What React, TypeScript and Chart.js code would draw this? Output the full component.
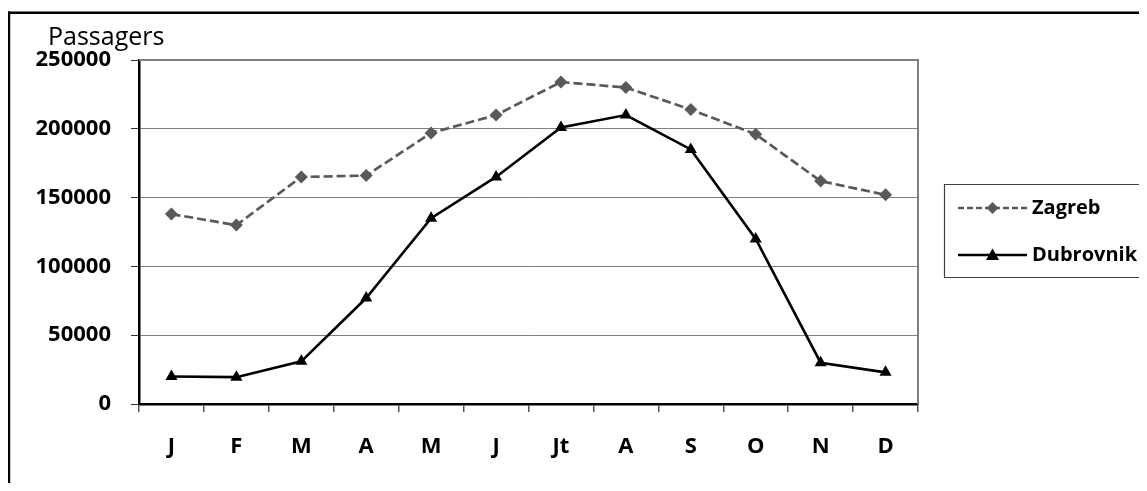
import React, { useEffect, useRef } from "react";
import { Chart, registerables } from "chart.js";

Chart.register(...registerables);

const months = ["J", "F", "M", "A", "M", "J", "Jt", "A", "S", "O", "N", "D"];
const zagreb = [138000, 130000, 165000, 166000, 197000, 210000, 234000, 230000, 214000, 196000, 162000, 152000];
const dubrovnik = [20000, 19500, 31000, 77000, 135000, 165000, 201000, 210000, 185000, 120000, 30000, 23000];
const yMin = 0;
const yMax = 250000;
const yStep = 50000;
const yTitle = "Passagers";
const seriesNames = ["Zagreb", "Dubrovnik"];

const FONT = '"Open Sans", "Liberation Sans", sans-serif';
const W = 1131;
const H = 475;

const decor = {
  id: "decor",
  beforeDatasetsDraw(chart: any) {
    const { ctx, chartArea } = chart;
    ctx.save();
    ctx.strokeStyle = "#7f7f7f";
    ctx.lineWidth = 2;
    ctx.beginPath();
    ctx.moveTo(chartArea.left, chartArea.top);
    ctx.lineTo(chartArea.right, chartArea.top);
    ctx.lineTo(chartArea.right, chartArea.bottom);
    ctx.stroke();
    ctx.restore();
  },
  afterDraw(chart: any) {
    const { ctx, chartArea, width, height } = chart;
    ctx.save();
    // outer frame (left and top edges visible)
    ctx.fillStyle = "#000";
    ctx.fillRect(0, 3.5, width, 2.5);
    ctx.fillRect(0, 3.5, 2.2, height);
    // y title
    ctx.font = `25px ${FONT}`;
    ctx.fillStyle = "#000";
    ctx.textBaseline = "alphabetic";
    ctx.textAlign = "left";
    ctx.fillText(yTitle, 40, 37);
    // legend box (open to the right edge of the picture)
    const lx = chartArea.right + 26;
    ctx.strokeStyle = "#404040";
    ctx.lineWidth = 1.2;
    ctx.beginPath();
    ctx.moveTo(width + 5, 176.5);
    ctx.lineTo(lx + 0.5, 176.5);
    ctx.lineTo(lx + 0.5, 269.5);
    ctx.lineTo(width + 5, 269.5);
    ctx.stroke();
    const rows = [200, 247];
    const x1 = lx + 14;
    const x2 = lx + 83;
    const mx = (x1 + x2) / 2;
    // Zagreb
    ctx.strokeStyle = "#595959";
    ctx.lineWidth = 2.6;
    ctx.setLineDash([6, 3]);
    ctx.beginPath();
    ctx.moveTo(x1, rows[0]);
    ctx.lineTo(x2, rows[0]);
    ctx.stroke();
    ctx.setLineDash([]);
    ctx.fillStyle = "#595959";
    ctx.beginPath();
    const r = 6;
    ctx.moveTo(mx, rows[0] - r);
    ctx.lineTo(mx + r, rows[0]);
    ctx.lineTo(mx, rows[0] + r);
    ctx.lineTo(mx - r, rows[0]);
    ctx.closePath();
    ctx.fill();
    // Dubrovnik
    ctx.strokeStyle = "#000";
    ctx.lineWidth = 2.6;
    ctx.beginPath();
    ctx.moveTo(x1, rows[1]);
    ctx.lineTo(x2, rows[1]);
    ctx.stroke();
    ctx.fillStyle = "#000";
    ctx.beginPath();
    ctx.moveTo(mx, rows[1] - 6.5);
    ctx.lineTo(mx + 6.5, rows[1] + 5);
    ctx.lineTo(mx - 6.5, rows[1] + 5);
    ctx.closePath();
    ctx.fill();
    const tx = lx + 88;
    let size = 21;
    ctx.font = `bold ${size}px ${FONT}`;
    while (size > 15 && tx + ctx.measureText(seriesNames[1]).width > width - 1) {
      size -= 0.5;
      ctx.font = `bold ${size}px ${FONT}`;
    }
    ctx.textBaseline = "middle";
    ctx.fillStyle = "#000";
    ctx.fillText(seriesNames[0], tx, rows[0]);
    ctx.fillText(seriesNames[1], tx, rows[1]);
    ctx.restore();
  },
};

export default function App() {
  const ref = useRef<HTMLCanvasElement>(null);
  useEffect(() => {
    if (!ref.current) return;
    const chart = new Chart(ref.current, {
      type: "line",
      data: {
        labels: months,
        datasets: [
          {
            label: seriesNames[0],
            data: zagreb,
            borderColor: "#595959",
            backgroundColor: "#595959",
            borderWidth: 2.7,
            borderDash: [9, 4],
            pointStyle: "rectRot",
            pointRadius: 6.5,
            pointBorderWidth: 0,
            tension: 0,
          },
          {
            label: seriesNames[1],
            data: dubrovnik,
            borderColor: "#000",
            backgroundColor: "#000",
            borderWidth: 2.6,
            pointStyle: "triangle",
            pointRadius: 7,
            pointBorderWidth: 0,
            tension: 0,
          },
        ],
      },
      options: {
        animation: false,
        responsive: false,
        layout: { padding: { left: 0, top: 52, right: 221, bottom: 19 } },
        plugins: { legend: { display: false }, tooltip: { enabled: false }, title: { display: false } },
        scales: {
          x: {
            offset: true,
            grid: { display: true, drawOnChartArea: false, drawTicks: true, tickLength: 8, offset: true, tickColor: "#555", lineWidth: 1.5 },
            border: { display: true, color: "#000", width: 2.5 },
            ticks: { color: "#000", font: { family: FONT, size: 22, weight: "bold" }, padding: 22, maxRotation: 0, autoSkip: false },
            afterFit(scale: any) { scale.height = 60; },
          },
          y: {
            min: yMin,
            max: yMax,
            grid: { color: "#808080", lineWidth: 1, tickLength: 8, tickColor: "#333" },
            border: { display: true, color: "#000", width: 2.5 },
            ticks: {
              stepSize: yStep,
              color: "#000",
              font: { family: FONT, size: 22, weight: "bold" },
              padding: 20,
              callback: (v: any) => String(v),
            },
            afterFit(scale: any) { scale.width = 131; },
          },
        },
      },
      plugins: [decor],
    } as any);
    return () => chart.destroy();
  }, []);
  return (
    <canvas ref={ref} width={W} height={H} style={{ display: "block", width: W, height: H }} />
  );
}
